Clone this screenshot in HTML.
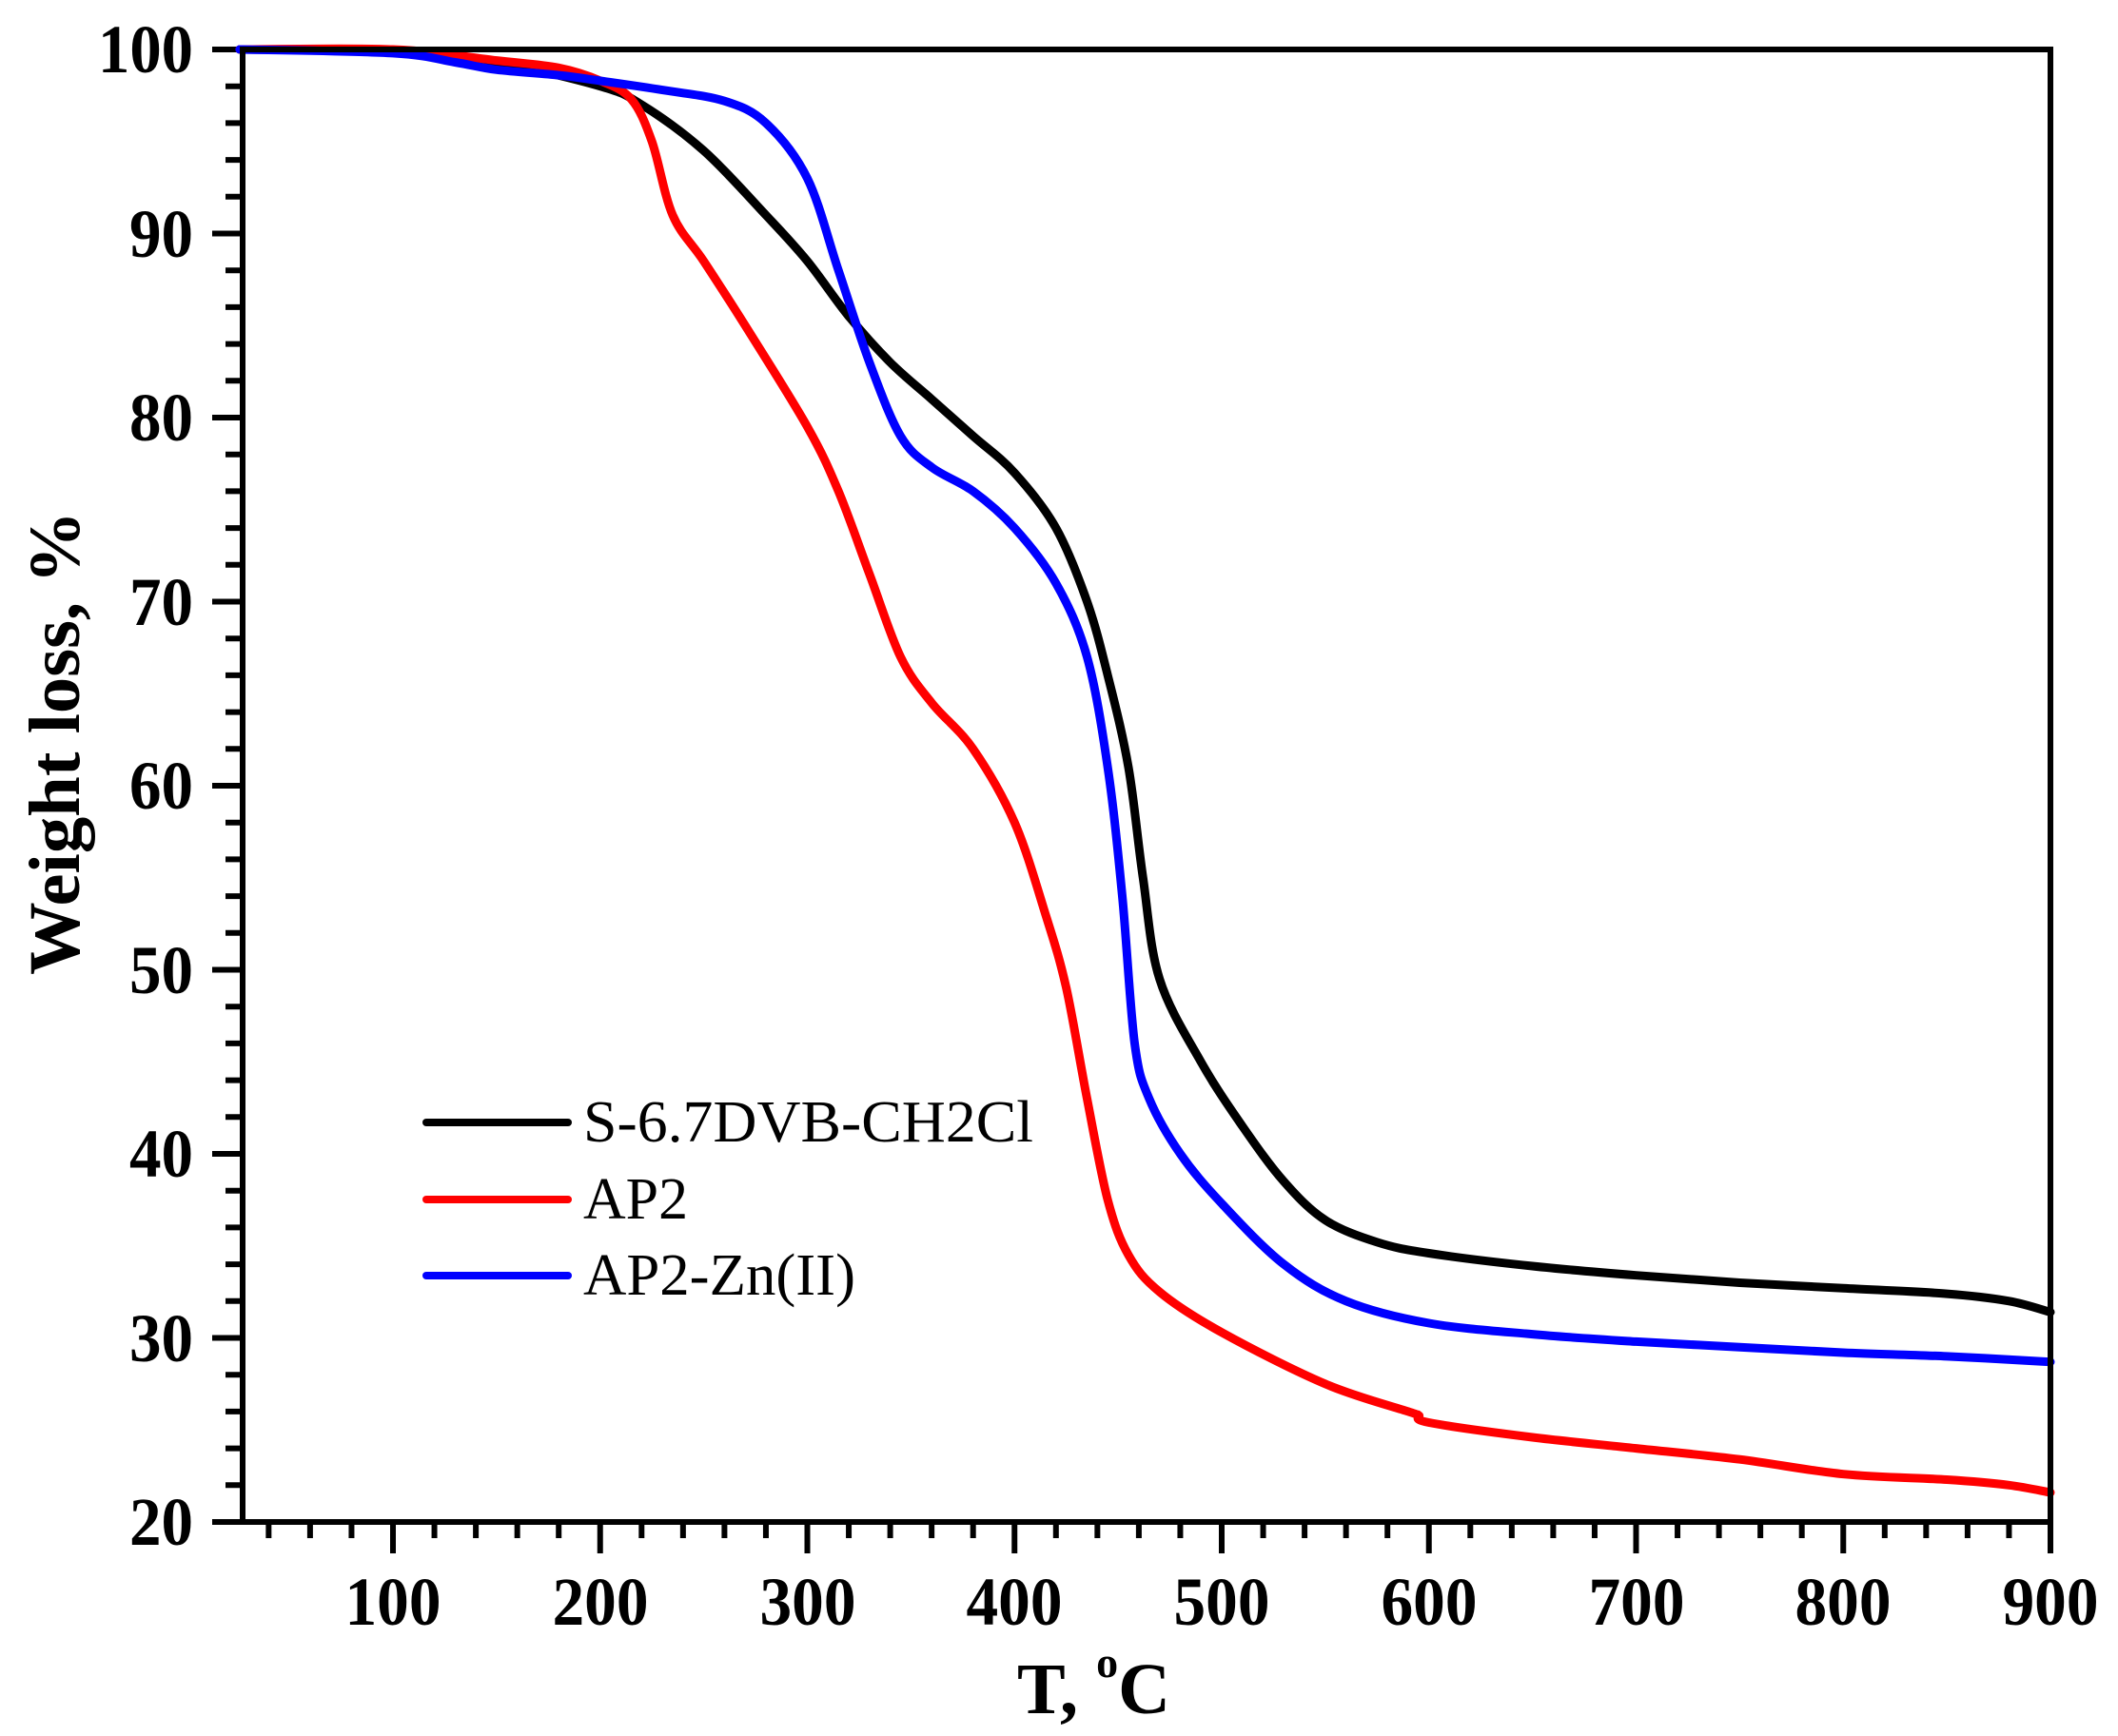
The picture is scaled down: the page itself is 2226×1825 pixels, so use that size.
<!DOCTYPE html>
<html><head><meta charset="utf-8"><style>html,body{margin:0;padding:0;background:#fff}svg{display:block}svg text{font-family:"Liberation Serif","Times New Roman",serif}</style></head>
<body>
<svg id="s" width="2226" height="1825" viewBox="0 0 2226 1825" xmlns="http://www.w3.org/2000/svg">
<rect width="2226" height="1825" fill="#fff"/>
<g id="ticks" stroke="#000" stroke-width="6"></g>
<g id="curves" fill="none" stroke-width="9" stroke-linejoin="round" stroke-linecap="round"></g>
<rect x="255" y="52" width="1900" height="1548" fill="none" stroke="#000" stroke-width="6"/>
<g font-weight="bold" font-size="72" text-anchor="end" lengthAdjust="spacingAndGlyphs">
<text x="203" y="76" textLength="100" lengthAdjust="spacingAndGlyphs">100</text><text x="203" y="270" textLength="67" lengthAdjust="spacingAndGlyphs">90</text><text x="203" y="463" textLength="67" lengthAdjust="spacingAndGlyphs">80</text><text x="203" y="657" textLength="67" lengthAdjust="spacingAndGlyphs">70</text><text x="203" y="850" textLength="67" lengthAdjust="spacingAndGlyphs">60</text><text x="203" y="1044" textLength="67" lengthAdjust="spacingAndGlyphs">50</text><text x="203" y="1237" textLength="67" lengthAdjust="spacingAndGlyphs">40</text><text x="203" y="1431" textLength="67" lengthAdjust="spacingAndGlyphs">30</text><text x="203" y="1624" textLength="67" lengthAdjust="spacingAndGlyphs">20</text>
</g>
<g font-weight="bold" font-size="72" text-anchor="middle">
<text x="413" y="1708" textLength="101" lengthAdjust="spacingAndGlyphs">100</text><text x="631" y="1708" textLength="101" lengthAdjust="spacingAndGlyphs">200</text><text x="849" y="1708" textLength="101" lengthAdjust="spacingAndGlyphs">300</text><text x="1066" y="1708" textLength="101" lengthAdjust="spacingAndGlyphs">400</text><text x="1284" y="1708" textLength="101" lengthAdjust="spacingAndGlyphs">500</text><text x="1502" y="1708" textLength="101" lengthAdjust="spacingAndGlyphs">600</text><text x="1720" y="1708" textLength="101" lengthAdjust="spacingAndGlyphs">700</text><text x="1937" y="1708" textLength="101" lengthAdjust="spacingAndGlyphs">800</text><text x="2155" y="1708" textLength="101" lengthAdjust="spacingAndGlyphs">900</text>
</g>
<text x="1069" y="1801" font-weight="bold" font-size="76">T, <tspan font-size="46" dy="-38">o</tspan><tspan dy="38">C</tspan></text>
<text transform="translate(83,781) rotate(-90)" text-anchor="middle" font-weight="bold" font-size="76" textLength="488" lengthAdjust="spacingAndGlyphs">Weight loss, %</text>
<g stroke-width="8" stroke-linecap="round">
<line x1="448" y1="1180" x2="597" y2="1180" stroke="#000"/>
<line x1="448" y1="1261" x2="597" y2="1261" stroke="#f00"/>
<line x1="448" y1="1341" x2="597" y2="1341" stroke="#00f"/>
</g>
<g font-size="62">
<text x="613" y="1200" textLength="473" lengthAdjust="spacingAndGlyphs">S-6.7DVB-CH2Cl</text>
<text x="613" y="1281" textLength="110" lengthAdjust="spacingAndGlyphs">AP2</text>
<text x="613" y="1361" textLength="286" lengthAdjust="spacingAndGlyphs">AP2-Zn(II)</text>
</g>
</svg>
<script>
var X=function(t){return 413+(t-100)*2.1775},Y=function(w){return 52+(100-w)*19.35};
var ns="http://www.w3.org/2000/svg",tk=document.getElementById('ticks');
function L(a,b,c,d){var l=document.createElementNS(ns,'line');l.setAttribute('x1',a);l.setAttribute('y1',b);l.setAttribute('x2',c);l.setAttribute('y2',d);tk.appendChild(l);}
for(var t=40;t<=900;t+=20){var x=X(t);L(x,1600,x,(t%100==0)?1633:1617);}
for(var w=20;w<=100;w+=2){var y=Y(w);L(255,y,(w%10==0)?223:237,y);}
var D={"#000":[[26,100],[100,99.9],[150,99.3],[200,98],[220,97],[250,94.5],[280,91],[300,88.5],[320,85.5],[340,83],[360,81],[380,79],[400,77],[420,74],[435,70],[445,66],[455,61],[462,55],[470,49.5],[490,45],[510,41.5],[530,38.5],[550,36.4],[575,35.2],[600,34.6],[650,33.9],[700,33.4],[750,33],[800,32.7],[850,32.4],[880,32],[900,31.4]],
"#f00":[[26,100],[100,100],[150,99.4],[180,99],[200,98.3],[215,97.3],[225,95],[235,91],[250,88.5],[270,85],[300,79.5],[315,76],[330,71.5],[345,67],[360,64.5],[380,62],[400,58],[415,53],[425,49],[435,43],[445,37.5],[455,34.5],[470,32.5],[500,30.3],[550,27.5],[590,26],[595,25.8],[600,25.4],[650,24.6],[700,24],[750,23.4],[800,22.6],[850,22.3],[880,22],[900,21.6]],
"#00f":[[26,100],[100,99.8],[130,99.3],[150,98.9],[180,98.6],[200,98.3],[230,97.8],[260,97.2],[280,96],[300,93],[315,88],[330,83],[345,79],[360,77.3],[380,76],[400,74],[420,71],[435,67],[445,61],[452,54],[458,46],[465,43],[480,40],[500,37.3],[530,34],[560,32],[600,30.8],[650,30.2],[700,29.8],[750,29.5],[800,29.2],[850,29],[900,28.7]]};
var cg=document.getElementById('curves');
for(var c in D){
 var P=D[c].map(function(q){return [X(q[0]),Y(q[1])]});
 var d='M'+P[0][0].toFixed(1)+','+P[0][1].toFixed(1);
 for(var i=0;i<P.length-1;i++){
  var p0=P[Math.max(0,i-1)],p1=P[i],p2=P[i+1],p3=P[Math.min(P.length-1,i+2)];
  var c1x=p1[0]+(p2[0]-p0[0])/6,c1y=p1[1]+(p2[1]-p0[1])/6,c2x=p2[0]-(p3[0]-p1[0])/6,c2y=p2[1]-(p3[1]-p1[1])/6;
  d+=' C'+c1x.toFixed(1)+','+c1y.toFixed(1)+' '+c2x.toFixed(1)+','+c2y.toFixed(1)+' '+p2[0].toFixed(1)+','+p2[1].toFixed(1);
 }
 var e=document.createElementNS(ns,'path');e.setAttribute('d',d);e.setAttribute('stroke',c);cg.appendChild(e);}
</script>
</body></html>
